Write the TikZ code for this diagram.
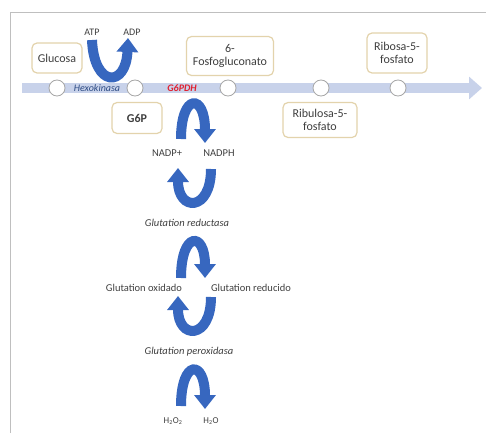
\documentclass[tikz,border=0pt]{standalone}
\usepackage{fontspec}
\setmainfont{Carlito}
\usetikzlibrary{arrows.meta}
\definecolor{lav}{HTML}{C8D2EA}
\definecolor{boxtan}{HTML}{E3D3AC}
\definecolor{arrowblue}{HTML}{3767BF}
\definecolor{txt}{HTML}{3F3F3F}
\definecolor{hexo}{HTML}{2E4C85}
\definecolor{gred}{HTML}{E02030}
\definecolor{framegray}{HTML}{BFBFBF}
\begin{document}
\begin{tikzpicture}[x=1pt,y=-1pt,
  box/.style={draw=boxtan, line width=1.2pt, rounded corners=5pt, fill=white, text=txt,
    font=\fontsize{12}{13}\selectfont, align=center, inner sep=0pt},
  dot/.style={circle, draw=gray!70, fill=white, line width=0.8pt, minimum size=16pt, inner sep=0pt},
  lbl/.style={text=txt, font=\fontsize{10.5}{12}\selectfont, inner sep=0pt},
  small/.style={text=txt, font=\fontsize{9}{10}\selectfont, inner sep=0pt},
  ilbl/.style={text=txt, font=\fontsize{10.5}{12}\selectfont\itshape, inner sep=0pt},
  curv/.style={draw=arrowblue, line width=10pt, -{Triangle[length=14pt,width=21pt]}},
  mainline/.style={draw=lav, line width=10pt, -{Triangle[length=13pt,width=22pt]}},
  framestyle/.style={draw=framegray, line width=1pt}
]
\useasboundingbox (0,0) rectangle (486,433);
% frame
\coordinate (fbl) at (10,433);
\coordinate (ftl) at (10,13);
\coordinate (ftr) at (486,13);
\draw[framestyle] (fbl) -- (ftl) -- (ftr);

% main line
\coordinate (ls) at (22,88);
\coordinate (le) at (482,88);
\draw[mainline] (ls) -- (le);

% circles
\node[dot] (c1) at (57,88) {};
\node[dot] (c2) at (135,88) {};
\node[dot] (c3) at (228,88) {};
\node[dot] (c4) at (321,88) {};
\node[dot] (c5) at (398,88) {};

% labels on line
\node[text=hexo, font=\fontsize{10}{11}\selectfont\itshape, inner sep=0pt] (hexok) at (97,88) {Hexokinasa};
\node[text=gred, font=\fontsize{10}{11}\selectfont\bfseries\itshape, inner sep=0pt] (g6pdh) at (182,88) {G6PDH};

% boxes
\node[box, minimum width=50pt, minimum height=30pt] (glucosa) at (57,58) {Glucosa};
\node[box, minimum width=50pt, minimum height=31pt, font=\fontsize{12}{13}\selectfont\bfseries] (g6p) at (137,118) {G6P};
\node[box, minimum width=87pt, minimum height=39pt] (fosfo) at (230,56) {6-\\Fosfogluconato};
\node[box, minimum width=60pt, minimum height=40pt] (ribosa) at (397,53) {Ribosa-5-\\fosfato};
\node[box, minimum width=74pt, minimum height=35pt] (ribulosa) at (320,120) {Ribulosa-5-\\fosfato};

% ATP / ADP
\node[small, font=\fontsize{10}{11}\selectfont] (atp) at (92,32) {ATP};
\node[small, font=\fontsize{10}{11}\selectfont] (adp) at (132,32) {ADP};
\coordinate (a1s) at (92,40);
\coordinate (a1e) at (128,38);
\draw[curv] (a1s) .. controls (94,88) and (126,88) .. (a1e);

% NADP+ / NADPH
\coordinate (a2s) at (181,139);
\coordinate (a2e) at (205,143);
\draw[curv] (a2s) .. controls (181,93) and (205,93) .. (a2e);
\node[lbl] (nadp) at (167,153) {NADP+};
\node[lbl] (nadph) at (219,153) {NADPH};

\coordinate (a3s) at (211,169);
\coordinate (a3e) at (178,168);
\draw[curv] (a3s) .. controls (211,212) and (178,212) .. (a3e);
\node[ilbl] (gred1) at (187,223) {Glutation reductasa};

\coordinate (a4s) at (181,278);
\coordinate (a4e) at (205,278);
\draw[curv] (a4s) .. controls (181,231) and (205,231) .. (a4e);
\node[lbl] (gox) at (144,288) {Glutation oxidado};
\node[lbl] (gred2) at (251,288) {Glutation reducido};

\coordinate (a5s) at (211,297);
\coordinate (a5e) at (178,296);
\draw[curv] (a5s) .. controls (211,340) and (178,340) .. (a5e);
\node[ilbl] (gper) at (189,352) {Glutation peroxidasa};

\coordinate (a6s) at (181,406);
\coordinate (a6e) at (205,409);
\draw[curv] (a6s) .. controls (181,359) and (205,359) .. (a6e);
\node[small] (h2o2) at (173,421) {H\textsubscript{2}O\textsubscript{2}};
\node[small] (h2o) at (211,421) {H\textsubscript{2}O};
\end{tikzpicture}
\end{document}
